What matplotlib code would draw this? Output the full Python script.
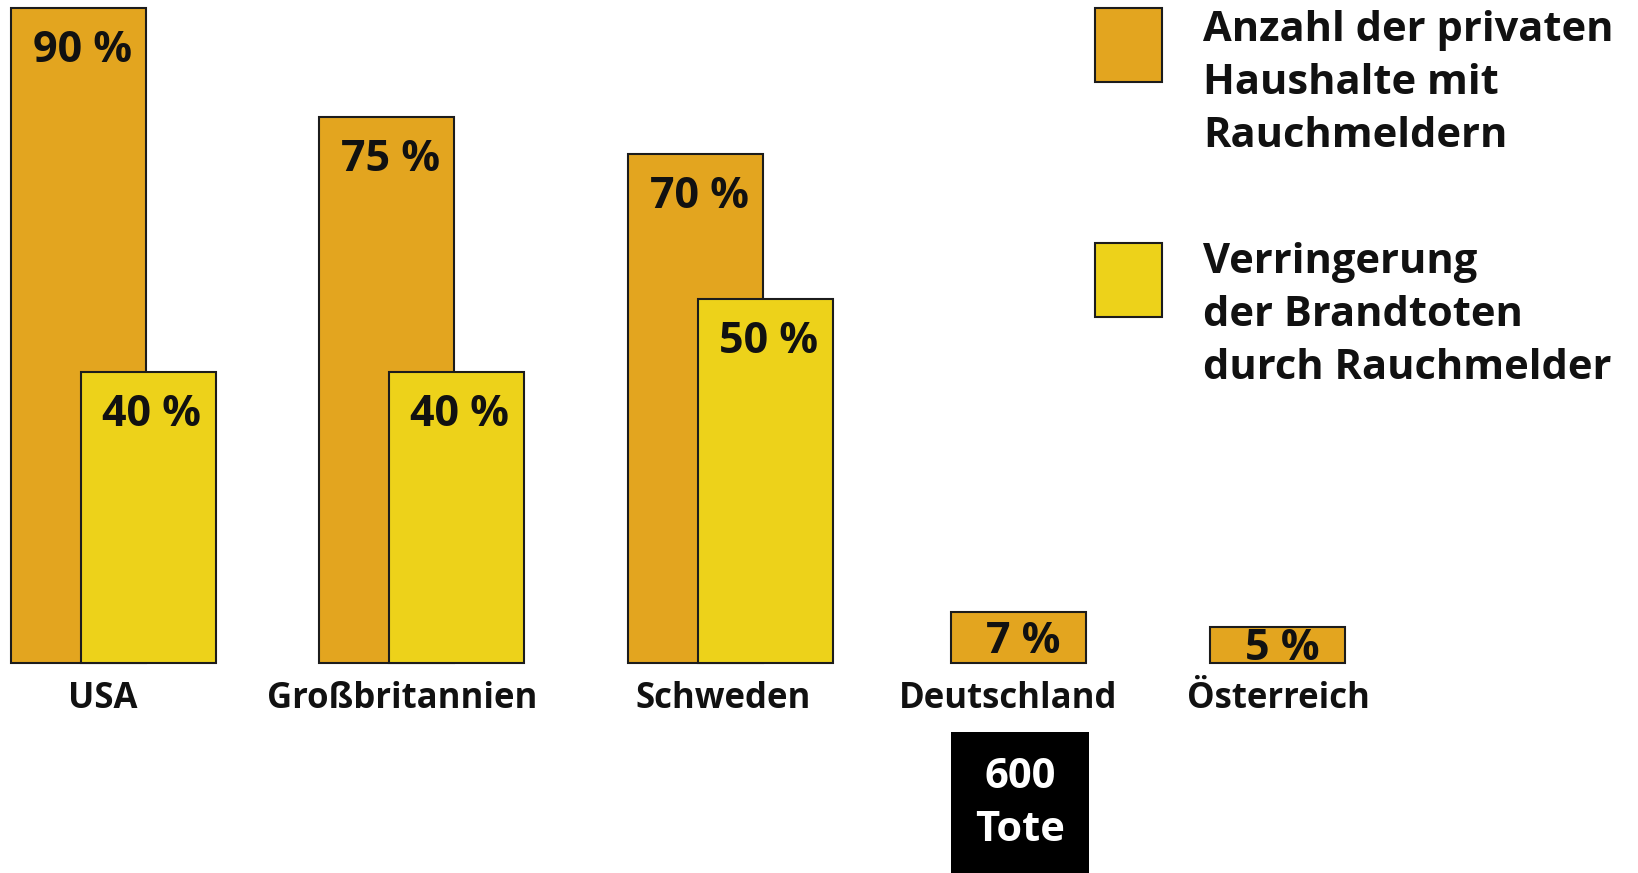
import numpy as np
import matplotlib
matplotlib.use("Agg")
import matplotlib.pyplot as plt
from matplotlib.patches import Rectangle

# ---------------- data ----------------
countries = ["USA", "Großbritannien", "Schweden", "Deutschland", "Österreich"]
households_pct = [90, 75, 70, 7, 5]           # Anzahl der privaten Haushalte mit Rauchmeldern
reduction_pct = [40, 40, 50, np.nan, np.nan]  # Verringerung der Brandtoten durch Rauchmelder
deaths_germany = 600
legend_labels = ["Anzahl der privaten\nHaushalte mit\nRauchmeldern",
                 "Verringerung\nder Brandtoten\ndurch Rauchmelder"]

# ---------------- layout / style ----------------
W, H = 1638, 873
ORANGE = "#E3A51F"
YELLOW = "#EDD21A"
EDGE = "#1c1c1c"
FONT = ["Open Sans", "DejaVu Sans"]
WEIGHT = "bold"

group_left = [11, 319, 628, 951, 1210]     # left edge of orange bar (px units)
label_cx = [103, 402, 723, 1008, 1278]     # centre of category label
bar_w = 135
yellow_shift = 70
base_px = 663                              # pixel row of the zero line
px_per_pct = (663 - 8) / 90.0
LABEL_FS = 31
digit_px = 0.714 * LABEL_FS * 100 / 72

fig = plt.figure(figsize=(W / 100, H / 100), dpi=100)
ax = fig.add_axes([0, 0, 1, 1])
ax.set_xlim(0, W)
ax.set_ylim(-(H - base_px) / px_per_pct, base_px / px_per_pct)
ax.axis("off")

def fig_px(x, y):
    """figure-fraction coordinates from pixel position (y from top)"""
    return x / W, 1 - y / H

# orange bars
ax.bar(group_left, households_pct, width=bar_w, align="edge",
       color=ORANGE, edgecolor=EDGE, linewidth=1.5, zorder=2)
# yellow bars
ylefts = [g + yellow_shift for g, r in zip(group_left, reduction_pct) if not np.isnan(r)]
yvals = [r for r in reduction_pct if not np.isnan(r)]
ax.bar(ylefts, yvals, width=bar_w, align="edge",
       color=YELLOW, edgecolor=EDGE, linewidth=1.5, zorder=3)

lab_off = 54 / px_per_pct
txt_kw = dict(fontsize=LABEL_FS, fontweight=WEIGHT, family=FONT, color="#111111", zorder=5)
for g, v in zip(group_left, households_pct):
    if v >= 20:
        ax.text(g + bar_w / 2 + 4, v - lab_off, f"{v} %", ha="center", va="baseline", **txt_kw)
    else:
        base = max(v / 2 - (digit_px / 2) / px_per_pct, 0.35)
        ax.text(g + bar_w / 2 + 5, base, f"{v} %", ha="center", va="baseline", **txt_kw)
for g, v in zip(ylefts, yvals):
    ax.text(g + bar_w / 2 + 3, v - lab_off, f"{v:.0f} %", ha="center", va="baseline", **txt_kw)

# category labels
for cx, name in zip(label_cx, countries):
    ax.text(cx, -(708 - base_px) / px_per_pct, name, ha="center", va="baseline",
            fontsize=25, fontweight=WEIGHT, family=FONT, color="#111111")

# black box under Deutschland
de = countries.index("Deutschland")
bx0, by0 = fig_px(group_left[de], 732)
fig.patches.append(Rectangle((bx0, 0), 138 / W, by0, transform=fig.transFigure,
                             facecolor="black", edgecolor="none", zorder=1))
cx, cy = fig_px(group_left[de] + 69, 804)
fig.text(cx, cy, f"{deaths_germany}\nTote", ha="center", va="center", color="white",
         fontsize=30, fontweight=WEIGHT, family=FONT, linespacing=1.38)

# legend (manual)
for i, (lab, col) in enumerate(zip(legend_labels, [ORANGE, YELLOW])):
    top = [8, 243][i]
    x0, y0 = fig_px(1095, top + 74)
    fig.patches.append(Rectangle((x0, y0), 67 / W, 74 / H, transform=fig.transFigure,
                                 facecolor=col, edgecolor=EDGE, linewidth=1.5))
    tx, ty = fig_px(1203, [10, 242][i])
    fig.text(tx, ty, lab, ha="left", va="top", fontsize=30, fontweight=WEIGHT,
             family=FONT, color="#111111", linespacing=1.38)

fig.savefig("out.png", dpi=100, facecolor="white")
